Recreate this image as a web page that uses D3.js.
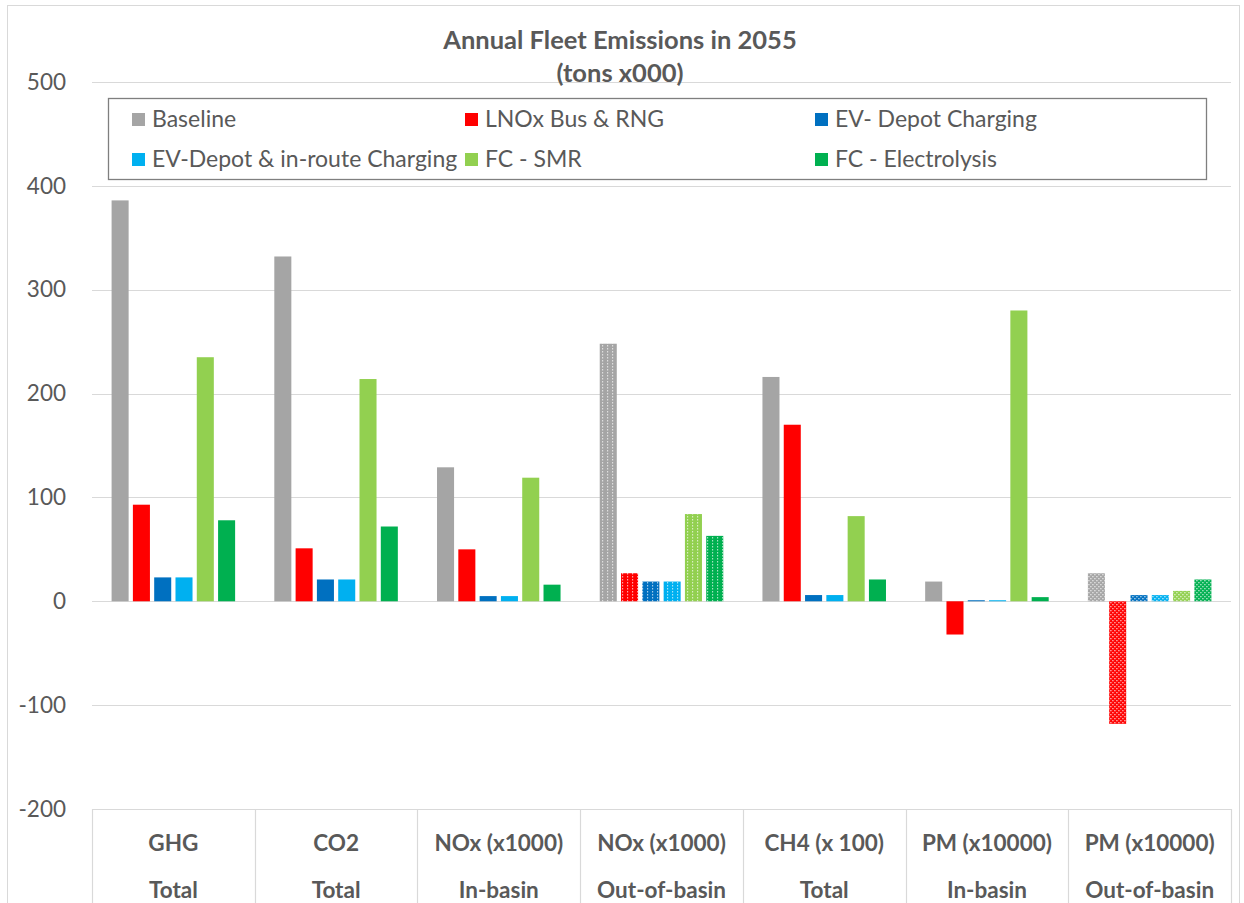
<!DOCTYPE html>
<html>
<head>
<meta charset="utf-8">
<script src="https://cdn.jsdelivr.net/npm/d3@7"></script>
<style>
    html, body { margin: 0; padding: 0; background: #fff; }
    svg { display: block; font-family: Lato, "Open Sans", sans-serif; }
</style>
</head>
<body>
<script>
(function () {
    var categories = ["GHG|Total", "CO2|Total", "NOx (x1000)|In-basin", "NOx (x1000)|Out-of-basin",
        "CH4 (x 100)|Total", "PM (x10000)|In-basin", "PM (x10000)|Out-of-basin"];
    var seriesNames = ["Baseline", "LNOx Bus & RNG", "EV- Depot Charging",
        "EV-Depot & in-route Charging", "FC - SMR", "FC - Electrolysis"];
    var seriesColors = ["#a5a5a5", "#ff0000", "#0070c0", "#00b0f0", "#92d050", "#00b050"];
    // fill style per category: solid, vertical dashes, dots
    var categoryFill = ["solid", "solid", "solid", "dash", "solid", "solid", "dots"];

    var baseline = [386, 332, 129, 248, 216, 19, 27];
    var lnox = [93, 51, 50, 27, 170, -32, -118];
    var evDepot = [23, 21, 5, 19, 6, 1, 6];
    var evRoute = [23, 21, 5, 19, 6, 1, 6];
    var fcSmr = [235, 214, 119, 84, 82, 280, 10];
    var fcElec = [78, 72, 16, 63, 21, 4, 21];

    var yTicks = [500, 400, 300, 200, 100, 0, -100, -200];

    var seriesValues = [baseline, lnox, evDepot, evRoute, fcSmr, fcElec];

    var width = 1244, height = 903;
    var margin = {top: 82, right: 13, bottom: 94, left: 92};
    var textColor = "#595959";

    var svg = d3.select("body").append("svg")
        .attr("width", width)
        .attr("height", height);

    // chart outer border
    svg.append("rect")
        .attr("x", 7.5).attr("y", 5.5)
        .attr("width", width - 12).attr("height", height)
        .attr("fill", "none")
        .attr("stroke", "#d9d9d9");

    var defs = svg.append("defs");
    seriesColors.forEach(function (c, i) {
        var p = defs.append("pattern")
            .attr("id", "dash-" + i)
            .attr("patternUnits", "userSpaceOnUse")
            .attr("width", 5).attr("height", 3);
        p.append("rect").attr("width", 5).attr("height", 3).attr("fill", c);
        p.append("rect").attr("x", 2).attr("y", 0).attr("width", 1).attr("height", 1.5)
            .attr("fill", "#fff").attr("opacity", 0.75);

        var q = defs.append("pattern")
            .attr("id", "dots-" + i)
            .attr("patternUnits", "userSpaceOnUse")
            .attr("width", 4).attr("height", 4);
        q.append("rect").attr("width", 4).attr("height", 4).attr("fill", c);
        q.append("rect").attr("x", 0).attr("y", 0).attr("width", 1.3).attr("height", 1.3)
            .attr("fill", "#fff").attr("opacity", 0.8);
        q.append("rect").attr("x", 2).attr("y", 2).attr("width", 1.3).attr("height", 1.3)
            .attr("fill", "#fff").attr("opacity", 0.8);
    });

    var x0 = d3.scaleBand()
        .domain(categories)
        .range([margin.left, width - margin.right])
        .paddingInner(0)
        .paddingOuter(0);

    var x1 = d3.scaleBand()
        .domain(d3.range(seriesNames.length))
        .range([0, x0.bandwidth()])
        .paddingInner(0.2)
        .paddingOuter(0.92);

    var y = d3.scaleLinear()
        .domain([-200, 500])
        .range([height - margin.bottom, margin.top]);

    // gridlines
    svg.append("g")
        .selectAll("line")
        .data(yTicks)
        .enter().append("line")
        .attr("x1", margin.left)
        .attr("x2", width - margin.right)
        .attr("y1", function (d) { return Math.round(y(d)) + 0.5; })
        .attr("y2", function (d) { return Math.round(y(d)) + 0.5; })
        .attr("stroke", "#d9d9d9")
        .attr("stroke-width", 1.2);

    // y tick labels (plain hyphen for negatives, as in the original)
    var yAxis = d3.axisLeft(y)
        .tickValues(yTicks)
        .tickSize(0)
        .tickPadding(0)
        .tickFormat(function (d) { return String(d); });
    var gy = svg.append("g")
        .attr("transform", "translate(" + (margin.left - 26) + ",0)")
        .call(yAxis);
    gy.select(".domain").remove();
    gy.selectAll("text")
        .attr("font-size", 22.5)
        .attr("font-family", "Lato, 'Open Sans', sans-serif")
        .attr("fill", textColor);

    // category table below plot
    var bottomY = y(-200);
    var sep = svg.append("g");
    x0.domain().concat(["end"]).forEach(function (c, i) {
        var xx = i < categories.length ? x0(c) : x0(categories[categories.length - 1]) + x0.bandwidth();
        sep.append("line")
            .attr("x1", Math.round(xx) + 0.5).attr("x2", Math.round(xx) + 0.5)
            .attr("y1", bottomY).attr("y2", height)
            .attr("stroke", "#d9d9d9")
            .attr("stroke-width", 1.2);
    });

    var catLabels = svg.append("g")
        .selectAll("text")
        .data(categories)
        .enter().append("text")
        .attr("text-anchor", "middle")
        .attr("font-size", 22.5)
        .attr("font-weight", "bold")
        .attr("fill", textColor);
    catLabels.append("tspan")
        .attr("x", function (d) { return x0(d) + x0.bandwidth() / 2; })
        .attr("y", bottomY + 42)
        .text(function (d) { return d.split("|")[0]; });
    catLabels.append("tspan")
        .attr("x", function (d) { return x0(d) + x0.bandwidth() / 2; })
        .attr("y", bottomY + 89)
        .text(function (d) { return d.split("|")[1]; });

    // bars
    var groups = svg.append("g")
        .selectAll("g")
        .data(categories)
        .enter().append("g")
        .attr("transform", function (d) { return "translate(" + x0(d) + ",0)"; });

    groups.selectAll("rect")
        .data(function (d, ci) {
            return seriesValues.map(function (vals, si) {
                return {ci: ci, si: si, value: vals[ci]};
            });
        })
        .enter().append("rect")
        .attr("x", function (d) { return x1(d.si); })
        .attr("width", x1.bandwidth())
        .attr("y", function (d) { return y(Math.max(0, d.value)); })
        .attr("height", function (d) { return Math.abs(y(d.value) - y(0)); })
        .attr("fill", function (d) {
            var f = categoryFill[d.ci];
            if (f === "solid") return seriesColors[d.si];
            return "url(#" + f + "-" + d.si + ")";
        });

    // title
    var title = svg.append("text")
        .attr("text-anchor", "middle")
        .attr("font-size", 25.5)
        .attr("font-weight", "bold")
        .attr("fill", textColor);
    title.append("tspan").attr("x", 620).attr("y", 49).text("Annual Fleet Emissions in 2055");
    title.append("tspan").attr("x", 620).attr("y", 82).text("(tons x000)");

    // legend
    var legend = svg.append("g");
    legend.append("rect")
        .attr("x", 108.5).attr("y", 98.5)
        .attr("width", 1098).attr("height", 81)
        .attr("fill", "#fff")
        .attr("stroke", "#7f7f7f")
        .attr("stroke-width", 1.3);

    var legendCols = [132, 465, 815];
    var legendRows = [119, 159];
    var item = legend.selectAll("g.item")
        .data(seriesNames)
        .enter().append("g")
        .attr("class", "item")
        .attr("transform", function (d, i) {
            return "translate(" + legendCols[i % 3] + "," + legendRows[Math.floor(i / 3)] + ")";
        });
    item.append("rect")
        .attr("x", 0).attr("y", -6)
        .attr("width", 13).attr("height", 13)
        .attr("fill", function (d, i) { return seriesColors[i]; });
    item.append("text")
        .attr("x", 20).attr("y", 8)
        .attr("font-size", 23)
        .attr("fill", textColor)
        .text(function (d) { return d; });
}());
</script>
</body>
</html>
